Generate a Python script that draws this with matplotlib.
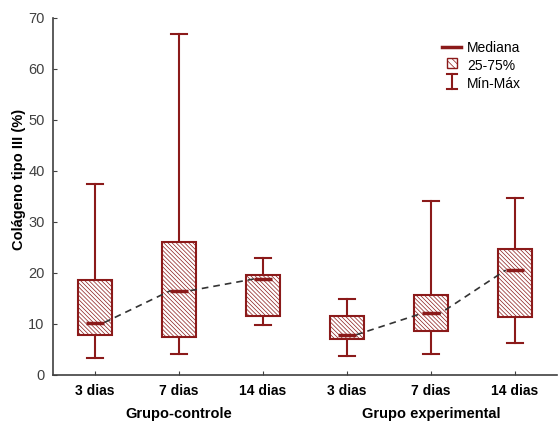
import numpy as np
import matplotlib
matplotlib.use('Agg')
import matplotlib.pyplot as plt
from matplotlib.lines import Line2D
from matplotlib.patches import Rectangle

plt.rcParams['font.family'] = ['Liberation Sans', 'DejaVu Sans']
plt.rcParams['hatch.linewidth'] = 0.5

# data
labels = ['3 dias', '7 dias', '14 dias', '3 dias', '7 dias', '14 dias']
groups = ['Grupo-controle', 'Grupo experimental']
mins = [3.3, 4.1, 9.7, 3.7, 4.1, 6.2]
q1s = [7.8, 7.4, 11.5, 6.9, 8.5, 11.3]
medians = [10.2, 16.4, 18.75, 7.8, 12.0, 20.5]
q3s = [18.5, 26.0, 19.5, 11.5, 15.6, 24.6]
maxs = [37.4, 66.8, 22.9, 14.9, 34.0, 34.7]

red = '#8b1a1a'
hatch = '\\' * 8
pos = np.arange(1, 7)

fig = plt.figure(figsize=(5.58, 4.21), dpi=100)
ax = fig.add_axes([53/558, 46.5/421, 504/558, 356.5/421])

stats = []
for i in range(6):
    stats.append({'whislo': mins[i], 'q1': q1s[i], 'med': medians[i],
                  'q3': q3s[i], 'whishi': maxs[i], 'fliers': []})

bp = ax.bxp(stats, positions=pos, widths=0.4, capwidths=0.19,
            patch_artist=True, showfliers=False,
            boxprops=dict(facecolor='white', edgecolor=red, linewidth=1.5, hatch=hatch),
            whiskerprops=dict(color=red, linewidth=1.5),
            capprops=dict(color=red, linewidth=1.5),
            medianprops=dict(linewidth=0))

# dashed line joining medians inside each group
hw = 0.11
for g in range(2):
    xs, ys = [], []
    for k in range(3):
        i = g * 3 + k
        xs += [pos[i] - hw, pos[i] + hw]
        ys += [medians[i], medians[i]]
    ax.plot(xs[1:-1], ys[1:-1], color='#333333', lw=1.2, dashes=(4, 3), zorder=4)

ax.hlines(medians, pos - hw, pos + hw, color=red, lw=2.5, zorder=5)

ax.set_xlim(0.5, 6.5)
ax.set_ylim(0, 70)
ax.set_yticks(range(0, 71, 10))
ax.set_xticks(pos)
ax.set_xticklabels(labels, fontweight='bold', fontsize=10)
ax.tick_params(axis='y', direction='in', length=3, pad=6, labelsize=10.5, labelcolor='#404040', colors='#404040')
ax.tick_params(axis='x', direction='in', length=3, pad=7, colors='#404040', labelcolor='black')
ax.spines['top'].set_visible(False)
ax.spines['right'].set_visible(False)
for s in ['left', 'bottom']:
    ax.spines[s].set_color('#404040')
    ax.spines[s].set_linewidth(1.2)

ax.set_ylabel('Colágeno tipo III (%)', fontweight='bold', fontsize=10.5)
ax.yaxis.set_label_coords(-27/504, 0.546)

ax.text(2, -7.8, groups[0], ha='center', va='center', fontweight='bold', fontsize=10.5)
ax.text(5, -7.8, groups[1], ha='center', va='center', fontweight='bold', fontsize=10.5)


# legend with custom symbols
class MinMaxHandler:
    def legend_artist(self, legend, orig_handle, fontsize, handlebox):
        x0, y0 = handlebox.xdescent, handlebox.ydescent
        w, h = handlebox.width, handlebox.height
        cx = x0 + w / 2
        art = [Line2D([cx, cx], [y0 - 1, y0 + h + 1], color=red, lw=1.5),
               Line2D([cx - 3.5, cx + 3.5], [y0 - 1, y0 - 1], color=red, lw=1.5),
               Line2D([cx - 3.5, cx + 3.5], [y0 + h + 1, y0 + h + 1], color=red, lw=1.5)]
        for a in art:
            a.set_transform(handlebox.get_transform())
            handlebox.add_artist(a)
        return art[0]


class BoxHandler:
    def legend_artist(self, legend, orig_handle, fontsize, handlebox):
        x0, y0 = handlebox.xdescent, handlebox.ydescent
        w, h = handlebox.width, handlebox.height
        s = 7.2
        r = Rectangle((x0 + w / 2 - s / 2, y0 + h / 2 - s / 2), s, s,
                      facecolor='white', edgecolor=red, hatch='\\' * 5, lw=1,
                      transform=handlebox.get_transform())
        handlebox.add_artist(r)
        return r


class MinMax:
    pass


class Box:
    pass


h_med = Line2D([], [], color=red, lw=2.5)
leg = ax.legend([h_med, Box(), MinMax()], ['Mediana', '25-75%', 'Mín-Máx'],
                handler_map={MinMax: MinMaxHandler(), Box: BoxHandler()},
                loc='upper left', bbox_to_anchor=(382/504, 1 - 16/356.5), frameon=False,
                fontsize=10, handlelength=1.4, handleheight=0.9, labelspacing=0.3,
                handletextpad=0.4, borderpad=0)

fig.savefig('out.png', dpi=100)
